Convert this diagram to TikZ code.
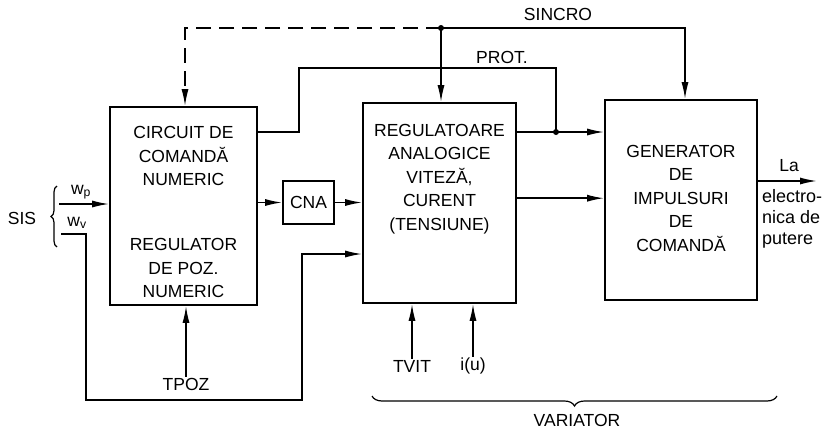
\documentclass[tikz,border=0pt]{standalone}
\usepackage{fontspec}
\setmainfont{Liberation Sans}
\usepackage{tikz}
\usetikzlibrary{positioning, arrows.meta, decorations.pathreplacing}

\tikzset{
  blockbox/.style={draw, line width=1.6pt, inner sep=0pt},
  wire/.style={line width=1.6pt},
  sig/.style={wire, -{Latex[length=17pt,width=7pt]}},
  lbl/.style={font=\fontsize{17.5}{23.5}\selectfont, align=center, inner sep=1pt},
  junc/.style={circle, fill, inner sep=0pt, minimum size=6pt},
  curly/.style={decorate, line width=1.2pt}
}

\begin{document}
\begin{tikzpicture}[x=1pt, y=-1pt]
  \useasboundingbox (0,0) rectangle (828,434);

  % blocks
  \node[blockbox, minimum width=147pt, minimum height=198pt] (cdn) at (183.5,206) {};
  \node[lbl] (cdntop) at (183.5,156) {CIRCUIT DE\\COMANDĂ\\NUMERIC};
  \node[lbl] (cdnbot) at (183.5,268) {REGULATOR\\DE POZ.\\NUMERIC};
  \node[blockbox, lbl, minimum width=51pt, minimum height=43pt] (cna) at (308.5,202.5) {CNA};
  \node[blockbox, minimum width=153pt, minimum height=200pt] (reg) at (439.5,203) {};
  \node[lbl] (regtxt) at (439.5,179) {REGULATOARE\\ANALOGICE\\VITEZĂ,\\CURENT\\(TENSIUNE)};
  \node[blockbox, minimum width=152pt, minimum height=200pt] (gen) at (681,200) {};
  \node[lbl] (gentxt) at (681,198) {GENERATOR\\DE\\IMPULSURI\\DE\\COMANDĂ};

  % inputs and labels
  \node[lbl] (sis) at (22,218) {SIS};
  \node[lbl] (wp) at (81,192) {w\textsubscript{p}};
  \node[lbl] (wv) at (77,223) {w\textsubscript{v}};
  \node[lbl] (tpoz) at (186,384) {TPOZ};
  \node[lbl] (tvit) at (412,366) {TVIT};
  \node[lbl] (iu) at (473,366) {i(u)};
  \node[lbl] (sincro) at (558,14) {SINCRO};
  \node[lbl] (prottxt) at (502,57) {PROT.};
  \node[lbl] (la) at (789,166) {La};
  \node[lbl, align=left, anchor=north west, font=\fontsize{18}{21}\selectfont] (putere) at (761,188) {electro-\\nica de\\putere};
  \node[lbl] (variator) at (577,420) {VARIATOR};

  \coordinate (wpin) at (59,204);
  \coordinate (wvin) at (61,234);
  \coordinate (wvret) at (302,254);
  \coordinate (sync) at (441,28);
  \coordinate (prot) at (556,132);
  \coordinate (outend) at (817,181);

  % SIS brace and inputs
  \draw[curly, decoration={brace, amplitude=6pt}] (57,247) -- (57,186);
  \draw[sig] (wpin) -- (wpin -| cdn.west);
  \draw[sig] (wvin) -| (86,400) -| (wvret) -- (wvret -| reg.west);
  \draw[sig] (tpoz.north) -- (tpoz.north |- cdn.south);

  % CNA path
  \draw[sig] (cdn.east |- cna.west) -- (cna.west);
  \draw[sig] (cna.east) -- (cna.east -| reg.west);

  % protection
  \draw[wire] ([yshift=-26pt]cdn.north east) -| (299,68) -| (prot);
  \draw[sig] (reg.east |- prot) -- (prot -| gen.west);
  \node[junc] at (prot) {};
  \draw[sig] ([yshift=-96pt]reg.north east) -- ([yshift=-99pt]gen.north west);

  % sincro
  \draw[sig, dash pattern=on 15pt off 8pt] (sync) -| ([xshift=1.5pt]cdn.north);
  \draw[sig] (sync) -- (sync |- reg.north);
  \draw[sig] (sync) -| ([xshift=4pt]gen.north);
  \node[junc] at (sync) {};

  % speed and current feedback
  \draw[sig] (tvit.north) -- (tvit.north |- reg.south);
  \draw[sig] (iu.north) -- (iu.north |- reg.south);

  % output
  \draw[sig] (gen.east |- outend) -- (outend);

  % variator brace
  \draw[curly, decoration={brace, amplitude=10pt}] (777,396) -- (372,396);
\end{tikzpicture}
\end{document}
